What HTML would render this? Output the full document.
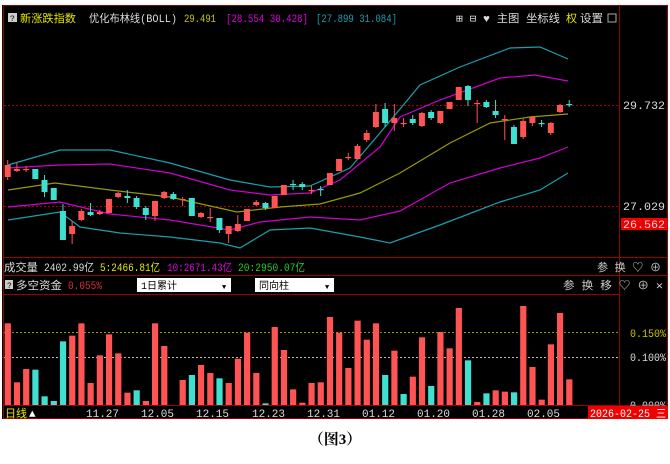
<!DOCTYPE html>
<html><head><meta charset="utf-8"><style>
body{margin:0;background:#fff;width:670px;height:464px;overflow:hidden;font-family:"Liberation Mono","Noto Sans CJK SC",monospace;}
#c{position:absolute;left:0;top:0}
</style></head><body>
<svg id="c" width="670" height="464" xmlns="http://www.w3.org/2000/svg" font-family="'Liberation Mono','Noto Sans CJK SC',monospace">
<rect x="2" y="5" width="666" height="414" fill="#000"/>
<g stroke="#9a0000" stroke-width="1" fill="none">
<rect x="3.5" y="5.5" width="664" height="413"/>
<line x1="619.5" y1="6" x2="619.5" y2="405"/>
<line x1="3" y1="257.5" x2="668" y2="257.5"/>
<line x1="3" y1="275.5" x2="668" y2="275.5"/>
<line x1="3" y1="294.5" x2="619" y2="294.5"/>
<line x1="3" y1="405.5" x2="668" y2="405.5"/>
</g>
<g stroke="#a00000" stroke-dasharray="2,2"><line x1="4" y1="105.5" x2="619" y2="105.5"/><line x1="4" y1="206.5" x2="619" y2="206.5"/></g>
<g stroke-dasharray="2,2"><line x1="4" y1="332.5" x2="619" y2="332.5" stroke="#9a9a00"/><line x1="4" y1="357.5" x2="619" y2="357.5" stroke="#bbb"/></g>
<g font-size="11" lengthAdjust="spacingAndGlyphs">
<rect x="8" y="13" width="9" height="9" fill="#ccc"/><text x="10" y="21" font-size="8" fill="#000">?</text>
<text x="20" y="22" fill="#e6e600" textLength="56" lengthAdjust="spacingAndGlyphs">新涨跌指数</text>
<text x="89" y="22" fill="#ddd" textLength="88" lengthAdjust="spacingAndGlyphs">优化布林线(BOLL)</text>
<text x="184" y="22" fill="#c8c800" textLength="32" lengthAdjust="spacingAndGlyphs">29.491</text>
<text x="226" y="22" fill="#e000e0" textLength="82" lengthAdjust="spacingAndGlyphs">[28.554 30.428]</text>
<text x="316" y="22" fill="#1aa0b0" textLength="81" lengthAdjust="spacingAndGlyphs">[27.899 31.084]</text>
<text x="456" y="22" fill="#ddd" textLength="104" lengthAdjust="spacingAndGlyphs">⊞ ⊟ ♥ 主图 坐标线</text>
<text x="566" y="22" fill="#e6e600">权</text><text x="580" y="22" fill="#ddd" textLength="23" lengthAdjust="spacingAndGlyphs">设置</text>
<rect x="608" y="14" width="8" height="8" fill="none" stroke="#aaa"/>
<text x="623" y="109" fill="#ddd" textLength="42" lengthAdjust="spacingAndGlyphs">29.732</text>
<text x="623" y="210" fill="#ddd" textLength="42" lengthAdjust="spacingAndGlyphs">27.029</text>
<rect x="621" y="218" width="47" height="12" fill="#f00000"/>
<text x="623" y="228" fill="#ddd" textLength="42" lengthAdjust="spacingAndGlyphs">26.562</text>
<text x="4" y="271" fill="#ddd" textLength="34" lengthAdjust="spacingAndGlyphs">成交量</text>
<text x="44" y="271" fill="#ddd" textLength="50" lengthAdjust="spacingAndGlyphs">2402.99亿</text>
<text x="100" y="271" fill="#e6e600" textLength="60" lengthAdjust="spacingAndGlyphs">5:2466.81亿</text>
<text x="167" y="271" fill="#e000e0" textLength="65" lengthAdjust="spacingAndGlyphs">10:2671.43亿</text>
<text x="238" y="271" fill="#20d020" textLength="67" lengthAdjust="spacingAndGlyphs">20:2950.07亿</text>
<text x="597" y="271" fill="#ccc" textLength="64" lengthAdjust="spacingAndGlyphs">参 换 ♡ ⊕</text>
<rect x="5" y="280" width="8" height="9" fill="#ccc"/><text x="7" y="288" font-size="8" fill="#000">?</text>
<text x="16" y="289" fill="#ddd" textLength="46" lengthAdjust="spacingAndGlyphs">多空资金</text>
<text x="68" y="289" fill="#e03030" textLength="34" lengthAdjust="spacingAndGlyphs">0.055%</text>
<rect x="137" y="278" width="94" height="14" fill="#fff"/><text x="141" y="289" fill="#000" font-size="10">1日累计</text><text x="222" y="289" font-size="7" fill="#000">▼</text>
<rect x="255" y="278" width="79" height="14" fill="#fff"/><text x="259" y="289" fill="#000" font-size="10">同向柱</text><text x="325" y="289" font-size="7" fill="#000">▼</text>
<text x="563" y="289" fill="#ccc" textLength="100" lengthAdjust="spacingAndGlyphs">参 换 移 ♡ ⊕ ✕</text>
<text x="630" y="337" fill="#c8c800" textLength="36" lengthAdjust="spacingAndGlyphs">0.150%</text>
<text x="630" y="361" fill="#ddd" textLength="36" lengthAdjust="spacingAndGlyphs">0.100%</text>
<text x="630" y="409" fill="#ddd" textLength="36" lengthAdjust="spacingAndGlyphs">0.000%</text>
<text x="5" y="417" fill="#e6e600">日线</text><text x="29" y="417" fill="#fff">▲</text>
<g fill="#ddd"><text x="86" y="417">11.27</text><text x="141" y="417">12.05</text><text x="196" y="417">12.15</text><text x="252" y="417">12.23</text><text x="307" y="417">12.31</text><text x="362" y="417">01.12</text><text x="417" y="417">01.20</text><text x="472" y="417">01.28</text><text x="527" y="417">02.05</text></g>
<rect x="588" y="406" width="80" height="13" fill="#f00000"/><text x="590" y="417" fill="#fff" textLength="76" lengthAdjust="spacingAndGlyphs">2026-02-25 三</text>
</g>
<g fill="none" stroke-width="1.2">
<polyline stroke="#1aa0b0" points="8,165 60,150 110,150 170,163 230,180 270,187 310,186 350,168 380,133 420,85 460,67 510,48 540,47 568,59"/>
<polyline stroke="#d000d0" points="8,168 60,165 110,164 170,173 230,190 270,195 310,193 340,180 380,147 400,117 440,100 500,78 535,75 568,81"/>
<polyline stroke="#9a9a00" points="8,190 55,183 110,190 170,197 237,212 280,207 320,204 360,193 400,173 450,143 490,123 530,117 568,114"/>
<polyline stroke="#d000d0" points="8,207 60,202 110,214 170,220 230,230 260,222 310,217 360,220 400,211 450,183 500,168 540,158 568,147"/>
<polyline stroke="#1aa0b0" points="8,220 60,212 80,227 120,233 170,237 220,243 240,248 270,230 310,228 360,237 390,243 440,225 500,202 540,190 568,173"/>
</g>
<g id="cd"></g><g id="br"></g>
<text x="335" y="444" text-anchor="middle" font-size="15" font-weight="bold" fill="#000" font-family="'Liberation Serif','Noto Serif CJK SC',serif">（图3）</text>
</svg>
<script>
var R="#ff5454",C="#40e0d0";
var cs=[[0,165,177,160,180,'R'],[1,169,171,163,172,'R'],[2,169,170,166,172,'R'],[3,169,179,169,179,'C'],[4,180,192,175,197,'C'],[5,188,200,188,200,'C'],[6,211,240,204,240,'C'],[7,226,234,221,244,'R'],[8,211,220,209,221,'R'],[9,212,215,203,216,'C'],[10,212,214,210,215,'R'],[11,199,213,199,213,'R'],[12,193,197,192,198,'R'],[13,196,198,190,203,'C'],[14,198,207,196,209,'C'],[15,208,215,206,220,'C'],[16,201,216,201,221,'R'],[17,192,198,191,199,'R'],[18,194,199,192,200,'C'],[19,199,200,197,206,'R'],[20,198,216,198,216,'C'],[21,213,217,212,218,'R'],[22,217,218,208,222,'R'],[23,218,230,218,233,'C'],[24,226,234,226,243,'R'],[25,224,231,215,232,'R'],[26,209,221,209,221,'R'],[27,202,205,200,206,'R'],[28,203,208,202,210,'C'],[29,196,208,196,208,'R'],[30,185,195,185,195,'R'],[31,184,185,180,190,'C'],[32,184,187,182,190,'C'],[33,190,191,186,194,'R'],[34,189,190,186,196,'C'],[35,173,185,173,185,'R'],[36,159,171,159,171,'R'],[37,157,158,153,160,'R'],[38,146,159,144,159,'R'],[39,133,140,130,142,'R'],[40,112,127,104,128,'R'],[41,109,123,103,127,'C'],[42,118,123,104,131,'R'],[43,123,124,118,127,'R'],[44,119,123,115,125,'C'],[45,113,126,112,127,'R'],[46,112,118,110,120,'C'],[47,111,123,111,124,'R'],[48,102,109,102,109,'R'],[49,87,100,87,100,'R'],[50,86,100,85,106,'C'],[51,103,104,100,123,'R'],[52,102,107,100,108,'C'],[53,111,115,100,118,'C'],[54,119,120,115,140,'R'],[55,127,144,125,144,'C'],[56,121,137,119,139,'R'],[57,117,123,116,126,'R'],[58,123,124,120,127,'C'],[59,123,133,122,135,'R'],[60,105,112,104,113,'R'],[61,104,105,100,107,'C']];
var bs=[[85,R],[262,R],[222,R],[224,C],[304,C],[318,C],[139,C],[122,R],[85,R],[264,R],[181,R],[118,R],[175,R],[293,R],[286,C],[318,R],[85,R],[153,R],[330,R],[255,R],[240,C],[210,R],[234,R],[250,C],[264,R],[191,R],[113,R],[234,R],[325,C],[96,R],[165,R],[283,R],[323,R],[264,R],[262,R],[66,R],[113,R],[219,R],[77,R],[134,R],[85,R],[240,C],[167,R],[297,C],[245,R],[127,R],[273,C],[111,R],[160,R],[39,R],[196,C],[321,R],[295,C],[286,R],[290,R],[292,C],[33,R],[216,R],[314,R],[148,R],[54,R],[253,R]];
var X=function(i){return 7.7+i*9.205;};
var h='';
cs.forEach(function(c){var x=X(c[0]),col=c[5]=='R'?R:C;h+='<line x1="'+x+'" y1="'+c[3]+'" x2="'+x+'" y2="'+c[4]+'" stroke="'+col+'"/>';var hh=Math.max(1.2,c[2]-c[1]);h+='<rect x="'+(x-3)+'" y="'+c[1]+'" width="6" height="'+hh+'" fill="'+col+'"/>';});
document.getElementById('cd').innerHTML=h;
h='';
bs.forEach(function(b,i){var t=295+b[0]/3;if(t>=405)return;h+='<rect x="'+(X(i)-3)+'" y="'+t+'" width="6.2" height="'+(405-t)+'" fill="'+b[1]+'"/>';});
document.getElementById('br').innerHTML=h;
</script>
</body></html>
